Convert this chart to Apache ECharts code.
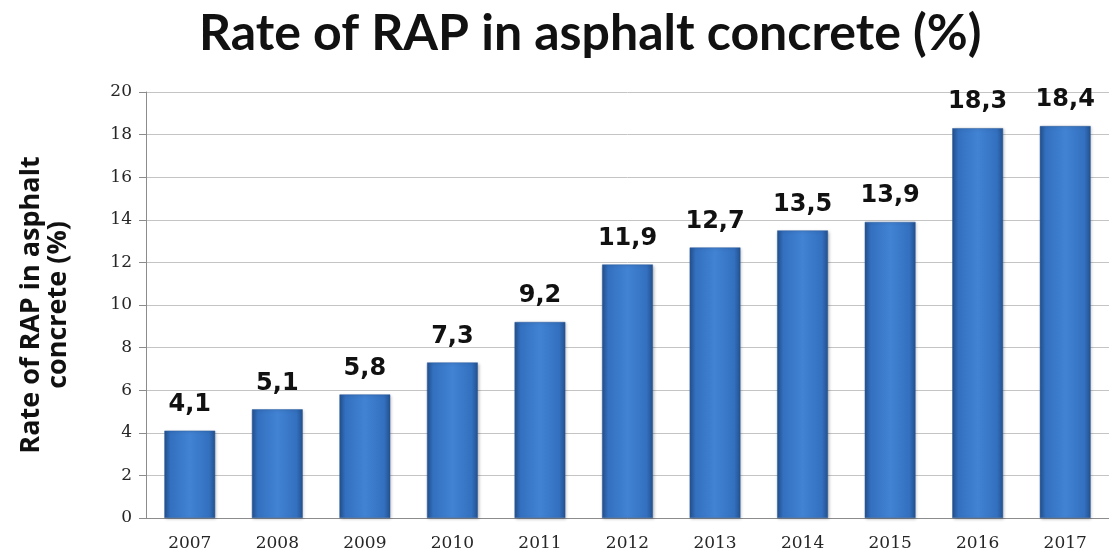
<!DOCTYPE html>
<html>
<head>
<meta charset="utf-8">
<script src="https://cdn.jsdelivr.net/npm/echarts@6/dist/echarts.min.js"></script>
<style>
  html, body { margin: 0; padding: 0; background: #ffffff; }
  #chart { width: 1109px; height: 553px; }
</style>
</head>
<body>
<div id="chart"></div>
<script>
// Share of reclaimed asphalt pavement (RAP) by year
const years = ['2007', '2008', '2009', '2010', '2011', '2012', '2013', '2014', '2015', '2016', '2017'];
const rapRate = [4.1, 5.1, 5.8, 7.3, 9.2, 11.9, 12.7, 13.5, 13.9, 18.3, 18.4];
const yTicks = [0, 2, 4, 6, 8, 10, 12, 14, 16, 18, 20];

const chart = echarts.init(document.getElementById('chart'), null, { renderer: 'canvas' });

const barFill = new echarts.graphic.LinearGradient(0, 0, 1, 0, [
  { offset: 0, color: '#24518f' },
  { offset: 0.12, color: '#3370bf' },
  { offset: 0.5, color: '#4283d4' },
  { offset: 0.88, color: '#3370bf' },
  { offset: 1, color: '#24518f' }
]);

chart.setOption({
  animation: false,
  backgroundColor: '#ffffff',
  title: {
    text: 'Rate of RAP in asphalt concrete (%)',
    left: 194,
    top: 4,
    textStyle: {
      fontFamily: 'Lato',
      fontWeight: 'bold',
      fontSize: 50,
      color: '#111111'
    }
  },
  grid: { left: 146, right: 0, top: 92, bottom: 35, containLabel: false, outerBoundsMode: 'none' },
  xAxis: {
    type: 'category',
    data: years,
    axisLine: { show: true, lineStyle: { color: '#8c8c8c', width: 1 } },
    axisTick: { show: false },
    axisLabel: {
      fontFamily: 'DejaVu Serif',
      fontSize: 17,
      color: '#262626',
      margin: 17
    }
  },
  yAxis: {
    type: 'value',
    min: 0,
    max: yTicks[yTicks.length - 1],
    interval: 2,
    name: 'Rate of RAP in asphalt\nconcrete (%)',
    nameLocation: 'middle',
    nameGap: 74,
    nameRotate: 90,
    nameTextStyle: {
      fontFamily: 'Open Sans',
      fontWeight: 'bold',
      fontSize: 27,
      lineHeight: 27,
      color: '#111111'
    },
    axisLine: { show: true, lineStyle: { color: '#8c8c8c', width: 1 } },
    axisTick: { show: true, length: 7, inside: false, lineStyle: { color: '#8c8c8c' } },
    splitLine: { show: true, lineStyle: { color: '#c4c4c4', width: 1 } },
    axisLabel: {
      fontFamily: 'DejaVu Serif',
      fontSize: 17,
      color: '#262626',
      margin: 14
    }
  },
  series: [{
    type: 'bar',
    data: rapRate,
    barWidth: '58%',
    itemStyle: {
      color: barFill,
      borderColor: '#2a5a9c',
      borderWidth: 0.5,
      shadowColor: 'rgba(0,0,0,0.25)',
      shadowBlur: 3,
      shadowOffsetX: 1,
      shadowOffsetY: 1
    },
    label: {
      show: true,
      position: 'top',
      distance: 14,
      formatter: p => String(p.value).replace('.', ','),
      fontFamily: 'DejaVu Sans',
      fontWeight: 'bold',
      fontSize: 24,
      color: '#111111'
    }
  }]
});
</script>
</body>
</html>
